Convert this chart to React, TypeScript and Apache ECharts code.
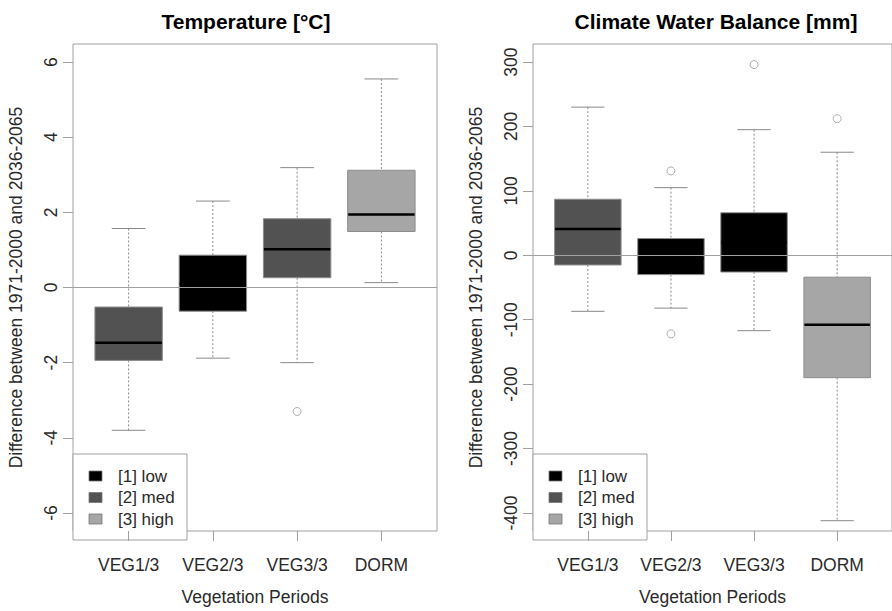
import React, { useEffect, useRef } from 'react';
import * as echarts from 'echarts';

const categories = ['VEG1/3', 'VEG2/3', 'VEG3/3', 'DORM'];
const groupLabels = ['[1] low', '[2] med', '[3] high'];
const groupColors = ['#000000', '#525252', '#a6a6a6'];

// Temperature [°C]
const tempGroup = [1, 0, 1, 2];
const tempLowerWhisker = [-3.8, -1.88, -2.0, 0.13];
const tempQ1 = [-1.94, -0.63, 0.26, 1.49];
const tempMedian = [-1.47, 0.1, 1.02, 1.94];
const tempQ3 = [-0.52, 0.86, 1.83, 3.12];
const tempUpperWhisker = [1.57, 2.3, 3.19, 5.55];
const tempOutliers: [number, number][] = [[2, -3.3]];
const tempTicks = [-6, -4, -2, 0, 2, 4, 6];

// Climate Water Balance [mm]
const cwbGroup = [1, 0, 0, 2];
const cwbLowerWhisker = [-87, -82, -117, -412];
const cwbQ1 = [-15, -30, -26, -190];
const cwbMedian = [41, -5, 20, -108];
const cwbQ3 = [87, 26, 66, -34];
const cwbUpperWhisker = [230, 105, 195, 160];
const cwbOutliers: [number, number][] = [[1, 131], [1, -122], [2, 296], [3, 212]];
const cwbTicks = [-400, -300, -200, -100, 0, 100, 200, 300];

const FONT = 'Liberation Sans, Arial, Helvetica, sans-serif';
const AXIS_GRAY = '#a0a0a0';
const TEXT = '#2a2a2a';
const FS = 17.5;

function buildBoxData(lo: number[], q1: number[], med: number[], q3: number[], hi: number[], grp: number[]) {
  return categories.map((_, i) => [i + 1, lo[i], q1[i], med[i], q3[i], hi[i], grp[i]]);
}

function renderBox(params: any, api: any) {
  const x = api.value(0);
  const pLo = api.coord([x, api.value(1)]);
  const pQ1 = api.coord([x, api.value(2)]);
  const pMed = api.coord([x, api.value(3)]);
  const pQ3 = api.coord([x, api.value(4)]);
  const pHi = api.coord([x, api.value(5)]);
  const g = api.value(6);
  const unit = api.size([1, 0])[0];
  const bw = unit * 0.8;
  const cw = bw / 2;
  const cx = pLo[0];
  const whisker = { stroke: '#8a8a8a', lineWidth: 1, lineDash: [2, 2] };
  const cap = { stroke: '#8a8a8a', lineWidth: 1 };
  return {
    type: 'group',
    children: [
      { type: 'line', shape: { x1: cx, y1: pHi[1], x2: cx, y2: pQ3[1] }, style: whisker },
      { type: 'line', shape: { x1: cx, y1: pQ1[1], x2: cx, y2: pLo[1] }, style: whisker },
      { type: 'line', shape: { x1: cx - cw / 2, y1: pHi[1], x2: cx + cw / 2, y2: pHi[1] }, style: cap },
      { type: 'line', shape: { x1: cx - cw / 2, y1: pLo[1], x2: cx + cw / 2, y2: pLo[1] }, style: cap },
      {
        type: 'rect',
        shape: { x: cx - bw / 2, y: pQ3[1], width: bw, height: pQ1[1] - pQ3[1] },
        style: { fill: groupColors[g], stroke: '#8c8c8c', lineWidth: 1 },
      },
      {
        type: 'line',
        shape: { x1: cx - bw / 2 + 0.5, y1: pMed[1], x2: cx + bw / 2 - 0.5, y2: pMed[1] },
        style: { stroke: '#000000', lineWidth: 2.5 },
      },
    ],
  };
}

function legendGraphics(x0: number, y0: number) {
  const children: any[] = [
    { type: 'rect', shape: { x: x0, y: y0, width: 114, height: 86 }, style: { fill: '#fff', stroke: AXIS_GRAY, lineWidth: 1 } },
  ];
  groupLabels.forEach((lab, i) => {
    const cy = y0 + 22 + i * 21.5;
    children.push({
      type: 'rect',
      shape: { x: x0 + 16, y: cy - 5, width: 13, height: 10 },
      style: { fill: groupColors[i], stroke: '#777', lineWidth: 0.8 },
    });
    children.push({
      type: 'text',
      x: x0 + 45,
      y: cy,
      style: { text: lab, fontSize: 17, fontFamily: FONT, fill: TEXT, verticalAlign: 'middle', textAlign: 'left' },
    });
  });
  return { type: 'group', z: 100, children };
}

function xAxisCfg(gridIndex: number) {
  return {
    type: 'value',
    gridIndex,
    min: 0.34,
    max: 4.66,
    name: 'Vegetation Periods',
    nameLocation: 'middle',
    nameGap: 57,
    nameTextStyle: { fontSize: FS, fontFamily: FONT, color: TEXT },
    axisLine: { show: false, onZero: false },
    splitLine: { show: false },
    axisTick: { show: true, length: 10, lineStyle: { color: AXIS_GRAY }, customValues: [1, 2, 3, 4] },
    axisLabel: {
      show: true,
      margin: 25,
      fontSize: FS,
      fontFamily: FONT,
      color: TEXT,
      customValues: [1, 2, 3, 4],
      formatter: (v: number) => categories[Math.round(v) - 1] ?? '',
    },
  };
}

function yAxisCfg(gridIndex: number, min: number, max: number, ticks: number[]) {
  return {
    type: 'value',
    gridIndex,
    min,
    max,
    name: 'Difference between 1971-2000 and 2036-2065',
    nameLocation: 'middle',
    nameRotate: 90,
    nameGap: 48,
    nameTextStyle: { fontSize: FS, fontFamily: FONT, color: TEXT },
    axisLine: { show: false },
    splitLine: { show: false },
    axisTick: { show: true, length: 10, lineStyle: { color: AXIS_GRAY }, customValues: ticks },
    axisLabel: {
      show: true,
      rotate: 90,
      margin: 13,
      fontSize: FS,
      fontFamily: FONT,
      color: TEXT,
      customValues: ticks,
      formatter: (v: number) => String(Math.round(v)),
    },
  };
}

export default function App() {
  const ref = useRef<HTMLDivElement>(null);
  useEffect(() => {
    if (!ref.current) return;
    const chart = echarts.init(ref.current, undefined, { renderer: 'svg' });
    const option: any = {
      animation: false,
      backgroundColor: '#ffffff',
      textStyle: { fontFamily: FONT },
      grid: [
        { left: 73, top: 44, width: 364, height: 496, show: true, borderColor: AXIS_GRAY, borderWidth: 1, backgroundColor: 'transparent' },
        { left: 533, top: 44, width: 363, height: 496, show: true, borderColor: AXIS_GRAY, borderWidth: 1, backgroundColor: 'transparent' },
      ],
      xAxis: [xAxisCfg(0), xAxisCfg(1)],
      yAxis: [yAxisCfg(0, -6.48, 6.48, tempTicks), yAxisCfg(1, -428, 328, cwbTicks)],
      series: [
        {
          type: 'line',
          xAxisIndex: 0,
          yAxisIndex: 0,
          data: [],
          z: 1,
          markLine: { silent: true, symbol: 'none', label: { show: false }, lineStyle: { color: AXIS_GRAY, type: 'solid', width: 1 }, data: [{ yAxis: 0 }] },
        },
        {
          type: 'line',
          xAxisIndex: 1,
          yAxisIndex: 1,
          data: [],
          z: 1,
          markLine: { silent: true, symbol: 'none', label: { show: false }, lineStyle: { color: AXIS_GRAY, type: 'solid', width: 1 }, data: [{ yAxis: 0 }] },
        },
        {
          type: 'custom',
          xAxisIndex: 0,
          yAxisIndex: 0,
          z: 3,
          renderItem: renderBox,
          encode: { x: 0, y: [1, 2, 3, 4, 5] },
          data: buildBoxData(tempLowerWhisker, tempQ1, tempMedian, tempQ3, tempUpperWhisker, tempGroup),
        },
        {
          type: 'custom',
          xAxisIndex: 1,
          yAxisIndex: 1,
          z: 3,
          renderItem: renderBox,
          encode: { x: 0, y: [1, 2, 3, 4, 5] },
          data: buildBoxData(cwbLowerWhisker, cwbQ1, cwbMedian, cwbQ3, cwbUpperWhisker, cwbGroup),
        },
        {
          type: 'scatter',
          xAxisIndex: 0,
          yAxisIndex: 0,
          z: 4,
          symbol: 'circle',
          symbolSize: 8,
          itemStyle: { color: '#fff', borderColor: '#999', borderWidth: 1 },
          data: tempOutliers.map(([i, v]) => [i + 1, v]),
        },
        {
          type: 'scatter',
          xAxisIndex: 1,
          yAxisIndex: 1,
          z: 4,
          symbol: 'circle',
          symbolSize: 8,
          itemStyle: { color: '#fff', borderColor: '#999', borderWidth: 1 },
          data: cwbOutliers.map(([i, v]) => [i + 1, v]),
        },
      ],
      graphic: [
        {
          type: 'text',
          x: 246,
          y: 21,
          z: 100,
          style: { text: 'Temperature [°C]', fontSize: 21, fontWeight: 'bold', fontFamily: FONT, fill: '#000', textAlign: 'center', verticalAlign: 'middle' },
        },
        {
          type: 'text',
          x: 716,
          y: 21,
          z: 100,
          style: { text: 'Climate Water Balance [mm]', fontSize: 21, fontWeight: 'bold', fontFamily: FONT, fill: '#000', textAlign: 'center', verticalAlign: 'middle' },
        },
        legendGraphics(73, 454),
        legendGraphics(533, 454),
      ],
    };
    chart.setOption(option);
    return () => chart.dispose();
  }, []);
  return <div ref={ref} style={{ position: 'fixed', left: 0, top: 0, width: 892, height: 611 }} />;
}
